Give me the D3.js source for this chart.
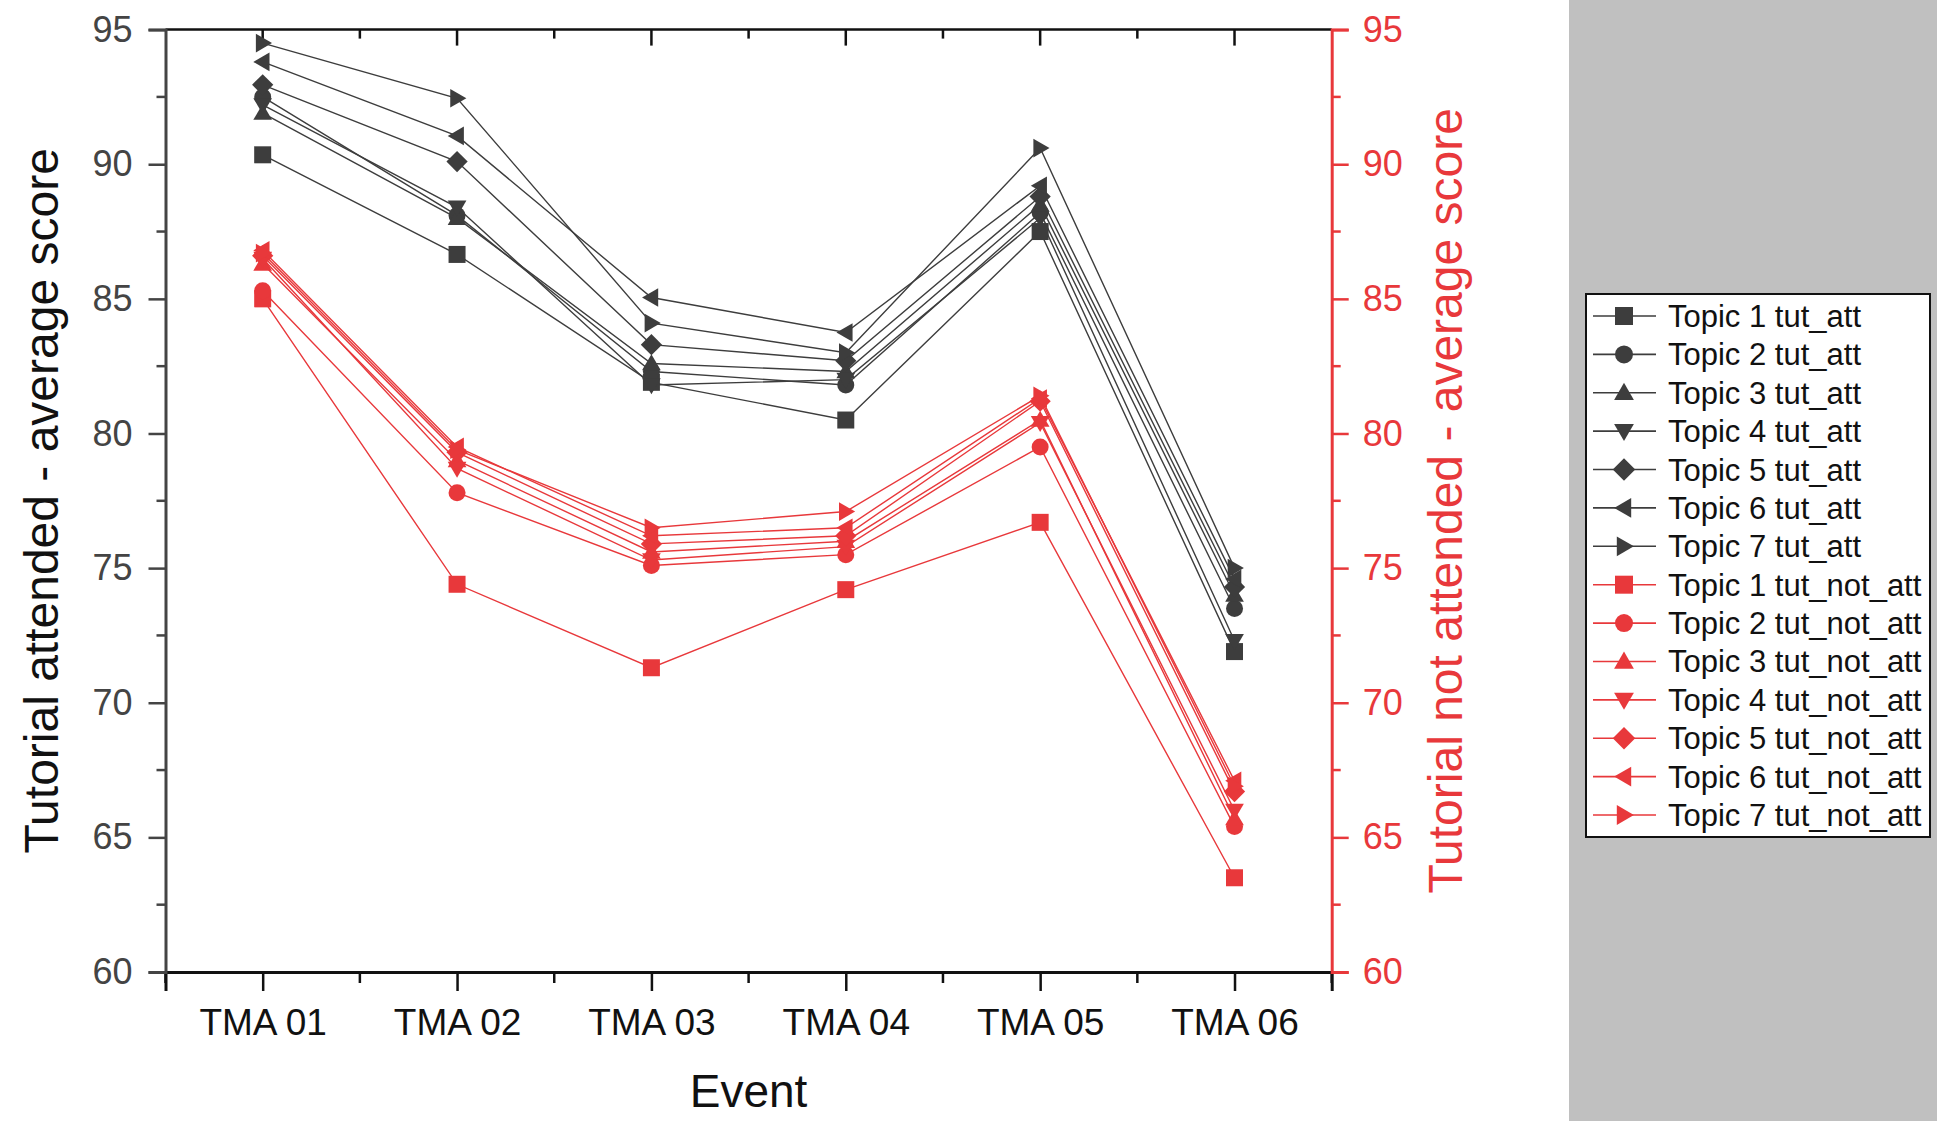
<!DOCTYPE html>
<html>
<head>
<meta charset="utf-8">
<script src="https://cdn.jsdelivr.net/npm/d3@7"></script>
<style>
  html, body { margin: 0; padding: 0; background: #fff; }
  svg { display: block; font-family: "Liberation Sans", Arial, sans-serif; }
</style>
</head>
<body>
<svg id="chart" width="1937" height="1121"></svg>
<script>
// categories on the x axis
var events = ["TMA 01", "TMA 02", "TMA 03", "TMA 04", "TMA 05", "TMA 06"];
var topics = ["Topic 1", "Topic 2", "Topic 3", "Topic 4", "Topic 5", "Topic 6", "Topic 7"];
var yTicks = [60, 65, 70, 75, 80, 85, 90, 95];

// tutorial attended - average score (left axis), one row per topic
var tutAtt = [
  [90.35, 86.65, 81.9, 80.5, 87.5, 71.9],
  [92.5, 88.1, 82.3, 81.8, 88.2, 73.5],
  [91.9, 88.0, 82.6, 82.3, 88.5, 74.0],
  [92.2, 88.4, 81.8, 82.0, 88.0, 72.3],
  [92.95, 90.1, 83.3, 82.7, 88.8, 74.3],
  [93.8, 91.05, 85.05, 83.75, 89.2, 74.6],
  [94.5, 92.45, 84.1, 83.0, 90.6, 75.0]
];
// tutorial not attended - average score (right axis)
var tutNotAtt = [
  [85.0, 74.4, 71.3, 74.2, 76.7, 63.5],
  [85.3, 77.8, 75.1, 75.5, 79.5, 65.4],
  [86.3, 79.0, 75.6, 76.0, 80.5, 65.7],
  [86.5, 78.7, 75.3, 75.8, 80.4, 66.0],
  [86.6, 79.3, 75.9, 76.2, 81.2, 66.7],
  [86.8, 79.5, 76.2, 76.5, 81.3, 67.1],
  [86.7, 79.4, 76.5, 77.1, 81.4, 66.9]
];

var GRAY = "#3d3d3d", RED = "#e8383b";
var svg = d3.select("#chart");

var plotL = 165.5, plotR = 1331.7, plotT = 29.6, plotB = 972;

// grey panel behind the legend
svg.append("rect").attr("x", 1569).attr("y", 0).attr("width", 368).attr("height", 1121).attr("fill", "#c0c0c0");

var x = d3.scaleLinear().domain([0.5, 6.5]).range([plotL, plotR]);
var yL = d3.scaleLinear().domain([60, 95]).range([plotB, plotT]);
var yR = d3.scaleLinear().domain([60, 95]).range([plotB, plotT]);

var idx = d3.range(1, 7);
var minorX = d3.range(1.5, 6.5, 1);
var minorY = d3.range(62.5, 95, 5);

// top frame with inward ticks
svg.append("line").attr("x1", plotL).attr("x2", plotR).attr("y1", plotT).attr("y2", plotT)
  .attr("stroke", "#111").attr("stroke-width", 2.5);
svg.append("g").selectAll("line").data(idx).join("line")
  .attr("x1", function(d){ return x(d); }).attr("x2", function(d){ return x(d); })
  .attr("y1", plotT).attr("y2", plotT + 16).attr("stroke", "#111").attr("stroke-width", 2.5);
svg.append("g").selectAll("line").data(minorX).join("line")
  .attr("x1", function(d){ return x(d); }).attr("x2", function(d){ return x(d); })
  .attr("y1", plotT).attr("y2", plotT + 9).attr("stroke", "#111").attr("stroke-width", 2.5);

// bottom axis
var gx = svg.append("g").attr("transform", "translate(0," + plotB + ")")
  .call(d3.axisBottom(x).tickValues(idx).tickSize(19).tickPadding(10)
    .tickFormat(function(d){ return events[d - 1]; }));
gx.select(".domain").attr("stroke", "#111").attr("stroke-width", 3);
gx.selectAll(".tick line").attr("stroke", "#111").attr("stroke-width", 2.5);
gx.selectAll(".tick text").attr("font-size", 37).attr("fill", "#111").attr("dy", "0.78em").attr("y", 34);
gx.append("g").selectAll("line").data(minorX.concat([0.5, 6.5])).join("line")
  .attr("x1", function(d){ return x(d); }).attr("x2", function(d){ return x(d); })
  .attr("y1", 0).attr("y2", 11).attr("stroke", "#111").attr("stroke-width", 2.5);

// left axis
var gl = svg.append("g").attr("transform", "translate(" + plotL + ",0)")
  .call(d3.axisLeft(yL).tickValues(yTicks).tickSize(17).tickPadding(16));
gl.select(".domain").attr("stroke", "#444").attr("stroke-width", 3);
gl.selectAll(".tick line").attr("stroke", "#444").attr("stroke-width", 2.5);
gl.selectAll(".tick text").attr("font-size", 36).attr("fill", "#444");
gl.append("g").selectAll("line").data(minorY).join("line")
  .attr("y1", function(d){ return yL(d); }).attr("y2", function(d){ return yL(d); })
  .attr("x1", 0).attr("x2", -9).attr("stroke", "#444").attr("stroke-width", 2.5);

// right axis
var gr = svg.append("g").attr("transform", "translate(" + plotR + ",0)")
  .call(d3.axisRight(yR).tickValues(yTicks).tickSize(17).tickPadding(14));
gr.select(".domain").attr("stroke", RED).attr("stroke-width", 3);
gr.selectAll(".tick line").attr("stroke", RED).attr("stroke-width", 2.5);
gr.selectAll(".tick text").attr("font-size", 36).attr("fill", RED);
gr.append("g").selectAll("line").data(minorY).join("line")
  .attr("y1", function(d){ return yR(d); }).attr("y2", function(d){ return yR(d); })
  .attr("x1", 0).attr("x2", 9).attr("stroke", RED).attr("stroke-width", 2.5);

// axis titles
svg.append("text").attr("transform", "translate(58," + ((plotT + plotB) / 2) + ") rotate(-90)")
  .attr("text-anchor", "middle").attr("font-size", 48).attr("fill", "#111")
  .text("Tutorial attended - average score");
svg.append("text").attr("transform", "translate(1462," + ((plotT + plotB) / 2) + ") rotate(-90)")
  .attr("text-anchor", "middle").attr("font-size", 48).attr("fill", RED)
  .text("Tutorial not attended - average score");
svg.append("text").attr("x", (plotL + plotR) / 2).attr("y", 1107)
  .attr("text-anchor", "middle").attr("font-size", 46).attr("fill", "#111").text("Event");

// marker shapes: square, circle, up, down, diamond, left, right
function marker(k, r) {
  switch (k) {
    case 0: return "M" + (-r) + "," + (-r) + "H" + r + "V" + r + "H" + (-r) + "Z";
    case 1: return "M" + (-r) + ",0A" + r + "," + r + " 0 1,0 " + r + ",0A" + r + "," + r + " 0 1,0 " + (-r) + ",0Z";
    case 2: return "M0," + (-r * 1.1) + "L" + (r * 1.1) + "," + (r * 0.8) + "L" + (-r * 1.1) + "," + (r * 0.8) + "Z";
    case 3: return "M0," + (r * 1.1) + "L" + (r * 1.1) + "," + (-r * 0.8) + "L" + (-r * 1.1) + "," + (-r * 0.8) + "Z";
    case 4: return "M0," + (-r * 1.25) + "L" + (r * 1.25) + ",0L0," + (r * 1.25) + "L" + (-r * 1.25) + ",0Z";
    case 5: return "M" + (-r * 1.1) + ",0L" + (r * 0.8) + "," + (-r * 1.1) + "L" + (r * 0.8) + "," + (r * 1.1) + "Z";
    default: return "M" + (r * 1.1) + ",0L" + (-r * 0.8) + "," + (-r * 1.1) + "L" + (-r * 0.8) + "," + (r * 1.1) + "Z";
  }
}

function drawGroup(data, yScale, color) {
  var line = d3.line().x(function(d, i){ return x(i + 1); }).y(function(d){ return yScale(d); });
  var g = svg.append("g");
  g.selectAll("path.ln").data(data).join("path").attr("class", "ln")
    .attr("d", line).attr("fill", "none").attr("stroke", color).attr("stroke-width", 1.4);
  data.forEach(function(series, k) {
    g.append("g").selectAll("path").data(series).join("path")
      .attr("transform", function(d, i){ return "translate(" + x(i + 1) + "," + yScale(d) + ")"; })
      .attr("d", marker(k, 8.5)).attr("fill", color);
  });
}
drawGroup(tutAtt, yL, GRAY);
drawGroup(tutNotAtt, yR, RED);

// legend
var lg = svg.append("g");
lg.append("rect").attr("x", 1586).attr("y", 294).attr("width", 344).attr("height", 543)
  .attr("fill", "#fff").attr("stroke", "#111").attr("stroke-width", 2);
var entries = [];
topics.forEach(function(t, k){ entries.push({ label: t + " tut_att", k: k, color: GRAY }); });
topics.forEach(function(t, k){ entries.push({ label: t + " tut_not_att", k: k, color: RED }); });
var rowY = d3.scaleLinear().domain([0, 13]).range([316, 815]);
entries.forEach(function(e, i) {
  var yy = rowY(i);
  lg.append("line").attr("x1", 1593).attr("x2", 1656).attr("y1", yy).attr("y2", yy)
    .attr("stroke", e.color).attr("stroke-width", 1.6);
  lg.append("path").attr("transform", "translate(1624," + yy + ")")
    .attr("d", marker(e.k, 9)).attr("fill", e.color);
  lg.append("text").attr("x", 1668).attr("y", yy + 11).attr("font-size", 31).attr("fill", "#111").text(e.label);
});
</script>
</body>
</html>
